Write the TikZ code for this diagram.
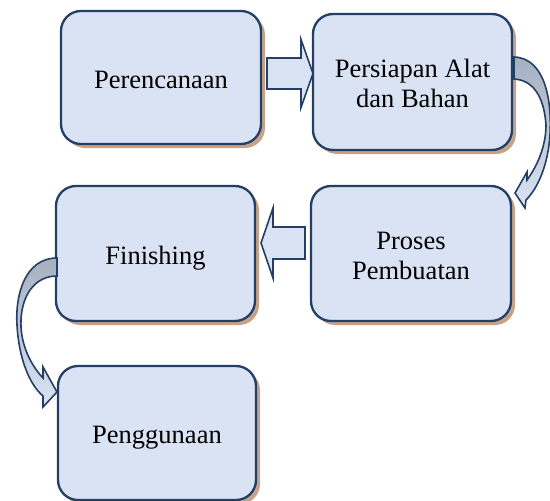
\documentclass[tikz,border=0pt]{standalone}
\usepackage{fontspec}
\setmainfont{Liberation Serif}
\usetikzlibrary{shadows}
\definecolor{boxline}{HTML}{243F66}
\definecolor{boxfill}{HTML}{DAE3F3}
\definecolor{shadowc}{HTML}{C6A388}
\definecolor{arrowgray}{HTML}{A6B0C0}
\newcommand{\stxt}[1]{\raisebox{-4.5pt}[\height][\depth]{\begin{tabular}{@{}c@{}}#1\end{tabular}}}
\begin{document}
\begin{tikzpicture}[x=1pt,y=-1pt,
  stepbox/.style={draw=boxline, fill=boxfill, line width=2.3pt, rounded corners=20pt,
    inner sep=0pt, align=center, font=\fontsize{26.5}{30}\selectfont,
    drop shadow={shadow xshift=4pt, shadow yshift=-4pt, fill=shadowc, opacity=1}},
  blockarrow/.style={draw=boxline, fill=boxfill, line width=1.6pt, line join=miter},
  curvearrow/.style={draw=boxline, line width=1.6pt, top color=arrowgray,
    bottom color=boxfill, line join=miter}]
\useasboundingbox (0,0) rectangle (550,501);

\node[stepbox, minimum width=200pt, minimum height=133pt] (b1) at (161,77.5) {\stxt{Perencanaan}};
\node[stepbox, minimum width=199pt, minimum height=136pt] (b2) at (412.5,82) {\stxt{Persiapan Alat\\dan Bahan}};
\node[stepbox, minimum width=200pt, minimum height=135pt] (b3) at (411,253.5) {\stxt{Proses\\Pembuatan}};
\node[stepbox, minimum width=199pt, minimum height=135pt] (b4) at (155.5,253.5) {\stxt{Finishing}};
\node[stepbox, minimum width=198pt, minimum height=134pt] (b5) at (157,433) {\stxt{Penggunaan}};

% block arrows
\draw[blockarrow] (267,58) -- (301,58) -- (301,39.5) -- (313,73.5) -- (301,107.5)
  -- (301,89) -- (267,89) -- cycle;
\draw[blockarrow] (305,227) -- (273,227) -- (273,208) -- (261,243) -- (273,278)
  -- (273,259) -- (305,259) -- cycle;

% curved arrows
\path[curvearrow] (514,57) .. controls (545,58) and (552,100) .. (550,135)
  .. controls (548,165) and (538,188) .. (526,200)
  -- (525,208) -- (515,193) -- (527,172) -- (527,180)
  .. controls (538,165) and (546,145) .. (546,125)
  .. controls (544,95) and (532,80) .. (514,79) -- cycle;
\path[curvearrow] (57,258) .. controls (25,258) and (15,295) .. (17,325)
  .. controls (19,360) and (30,385) .. (43,396)
  -- (43,407) -- (57,392) -- (43,367) -- (43,378)
  .. controls (28,362) and (20,340) .. (21,320)
  .. controls (22,295) and (35,276) .. (57,276) -- cycle;
\end{tikzpicture}
\end{document}
